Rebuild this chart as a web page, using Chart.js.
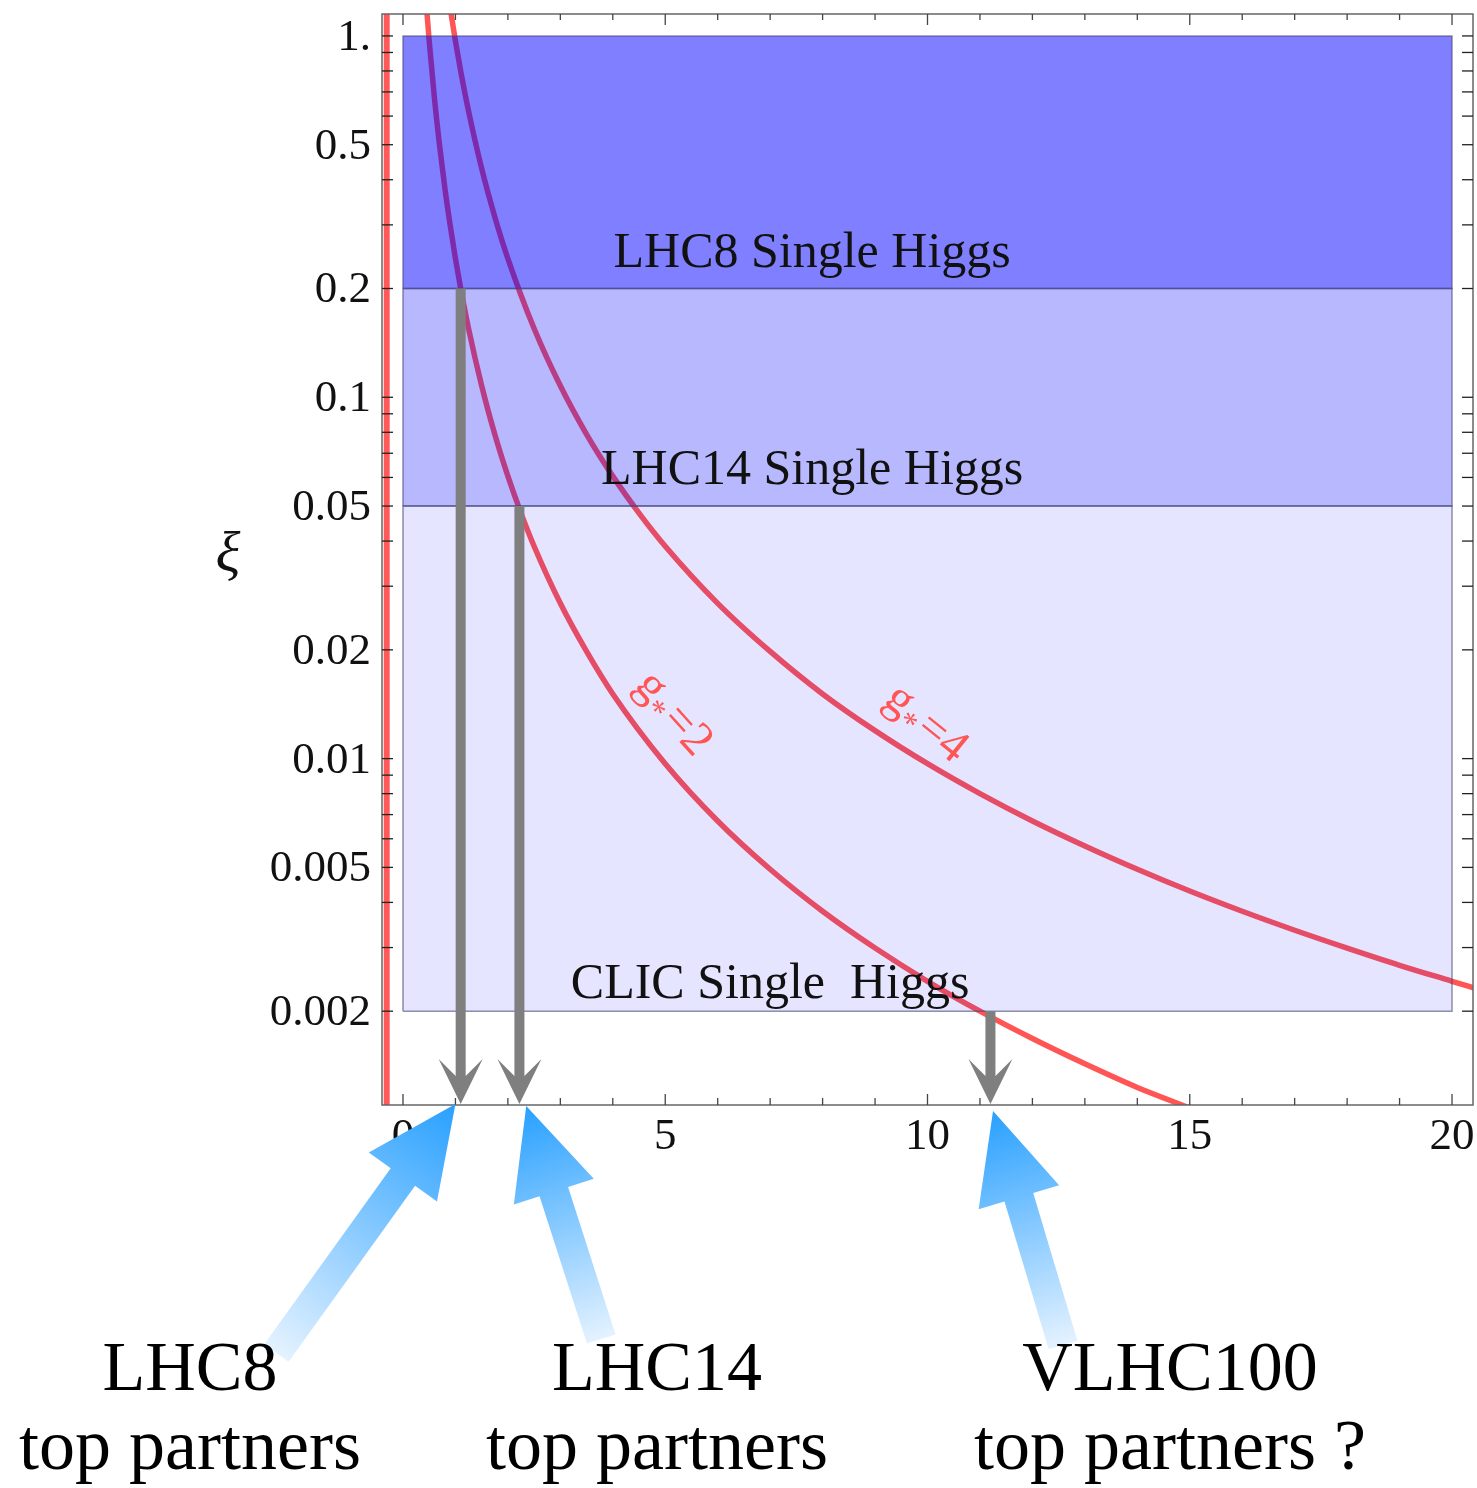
<!DOCTYPE html>
<html>
<head>
<meta charset="utf-8">
<script src="https://cdn.jsdelivr.net/npm/chart.js@4.4.1/dist/chart.umd.min.js"></script>
<style>
  html, body { margin: 0; padding: 0; background: #fff; }
  #wrap { width: 1477px; height: 1488px; }
</style>
</head>
<body>
<div id="wrap"><canvas id="xi-chart" width="1477" height="1488"></canvas></div>
<script>
// ---- data ----
const gStar2X = [0.45, 0.5, 0.6, 0.7, 0.8, 0.9, 1.0, 1.1, 1.25, 1.5, 1.75, 2.0, 2.25, 2.5, 3, 3.5, 4, 5, 6, 7, 8, 9, 10, 11, 12, 13, 14, 15];
const gStar2Y = [1.195, 0.968, 0.672, 0.494, 0.378, 0.299, 0.242, 0.200, 0.155, 0.1076, 0.079, 0.0605, 0.0478, 0.0387, 0.0269, 0.0198, 0.0151, 0.00968, 0.00672, 0.00494, 0.00378, 0.00299, 0.00242, 0.00200, 0.00168, 0.00143, 0.00123, 0.00108];

const gStar4X = [0.9, 1.0, 1.1, 1.25, 1.5, 1.75, 2, 2.5, 3, 3.5, 4, 4.5, 5, 6, 7, 8, 9, 10, 11, 12, 13, 14, 15, 16, 17, 18, 19, 20, 20.5];
const gStar4Y = [1.195, 0.968, 0.800, 0.620, 0.430, 0.316, 0.242, 0.155, 0.1076, 0.079, 0.0605, 0.0478, 0.0387, 0.0269, 0.0198, 0.0151, 0.01195, 0.00968, 0.0080, 0.00672, 0.00573, 0.00494, 0.0043, 0.00378, 0.00335, 0.00299, 0.00268, 0.00242, 0.0023];

// vertical red line at the left edge
const edgeLineX = [-0.31, -0.31];
const edgeLineY = [0.0011, 1.15];

// single Higgs bands
const bandNames = ['LHC8 Single Higgs', 'LHC14 Single Higgs', 'CLIC Single  Higgs'];
const bandLow = [0.2, 0.05, 0.002];
const bandHigh = [1, 0.2, 0.05];
const bandXFrom = 0;
const bandXTo = 20;

// top partner reach (grey arrows)
const reachX = [1.1, 2.22, 11.2];
const reachTop = [0.2, 0.05, 0.002];

// bottom labels
const partnerNames = ['LHC8', 'LHC14', 'VLHC100'];
const partnerSub = ['top partners', 'top partners', 'top partners ?'];
const blueTipX = [1.0, 2.35, 11.25];

// axes
const xMajorTicks = [0, 5, 10, 15, 20];
const xTickLabels = ['0', '5', '10', '15', '20'];
const xMinorTicks = [1, 2, 3, 4, 6, 7, 8, 9, 11, 12, 13, 14, 16, 17, 18, 19];
const yMajorTicks = [1, 0.5, 0.2, 0.1, 0.05, 0.02, 0.01, 0.005, 0.002];
const yTickLabels = ['1.', '0.5', '0.2', '0.1', '0.05', '0.02', '0.01', '0.005', '0.002'];
const yMinorTicks = [0.9, 0.8, 0.7, 0.6, 0.4, 0.3, 0.09, 0.08, 0.07, 0.06, 0.04, 0.03, 0.009, 0.008, 0.007, 0.006, 0.004, 0.003];

// ---- layout / style ----
const SERIF = "'Liberation Serif', 'DejaVu Serif', serif";
const RED = 'rgb(255, 85, 85)';
const GREY = '#7f7f7f';
const bandAlpha = [0.5, 0.28, 0.1];
const bandLabelX = [7.8, 7.8, 7.0];
const bandLabelY = [0.229, 0.0575, 0.00217];
const curveLabels = [
  { x: 5.13, y: 0.0132, rot: 48, sub: '2' },
  { x: 9.95, y: 0.0124, rot: 39, sub: '4' },
];
const blueTail = [[-179, 249], [75, 233], [70, 234]];
const blueTipDrop = [0, 2, 7];
const partnerCenter = [190, 657, 1170];

const pts = (xs, ys) => xs.map((x, i) => ({ x, y: ys[i] }));

function bandShape(i) {
  return [
    { x: bandXFrom, y: bandLow[i] }, { x: bandXFrom, y: bandHigh[i] },
    { x: bandXTo, y: bandHigh[i] }, { x: bandXTo, y: bandLow[i] },
    { x: bandXFrom, y: bandLow[i] },
  ];
}

const datasets = [
  {
    label: 'edge',
    data: pts(edgeLineX, edgeLineY),
    borderColor: 'rgba(255, 80, 80, 0.95)',
    borderWidth: 6,
    order: 10,
  },
  {
    label: 'g*=2',
    data: pts(gStar2X, gStar2Y),
    borderColor: RED,
    borderWidth: 5.5,
    cubicInterpolationMode: 'monotone',
    order: 9,
  },
  {
    label: 'g*=4',
    data: pts(gStar4X, gStar4Y),
    borderColor: RED,
    borderWidth: 5.5,
    cubicInterpolationMode: 'monotone',
    order: 8,
  },
];

bandNames.forEach((name, i) => {
  datasets.push({
    label: name,
    data: bandShape(i),
    borderColor: 'rgba(70, 70, 120, 0.6)',
    borderWidth: 1.5,
    backgroundColor: `rgba(0, 0, 255, ${bandAlpha[i]})`,
    fill: 'shape',
    tension: 0,
    order: 3 - i,
  });
});

function line(ctx, x1, y1, x2, y2) {
  ctx.beginPath();
  ctx.moveTo(x1, y1);
  ctx.lineTo(x2, y2);
  ctx.stroke();
}

const decorPlugin = {
  id: 'decor',
  beforeDraw(chart) {
    const ctx = chart.ctx;
    ctx.save();
    ctx.fillStyle = '#fff';
    ctx.fillRect(0, 0, chart.width, chart.height);
    ctx.restore();
  },
  afterDatasetsDraw(chart) {
    const { ctx, chartArea: a, scales: { x, y } } = chart;
    ctx.save();

    // frame
    ctx.strokeStyle = '#666';
    ctx.lineWidth = 1.5;
    ctx.strokeRect(a.left, a.top, a.right - a.left, a.bottom - a.top);

    // ticks, Mathematica style (inward)
    ctx.strokeStyle = '#444';
    ctx.lineWidth = 1.3;
    xMajorTicks.forEach(v => {
      const px = x.getPixelForValue(v);
      line(ctx, px, a.bottom, px, a.bottom - 11);
      line(ctx, px, a.top, px, a.top + 11);
    });
    xMinorTicks.forEach(v => {
      const px = x.getPixelForValue(v);
      line(ctx, px, a.bottom, px, a.bottom - 7);
      line(ctx, px, a.top, px, a.top + 6);
    });
    ctx.strokeStyle = '#222';
    yMajorTicks.concat(yMinorTicks).forEach(v => {
      const py = y.getPixelForValue(v);
      line(ctx, a.left, py, a.left + 11, py);
      line(ctx, a.right, py, a.right - 11, py);
    });

    // tick labels
    ctx.fillStyle = '#111';
    ctx.font = `45px ${SERIF}`;
    ctx.textAlign = 'center';
    ctx.textBaseline = 'alphabetic';
    xMajorTicks.forEach((v, i) => {
      ctx.fillText(xTickLabels[i], x.getPixelForValue(v), a.bottom + 44);
    });
    ctx.textAlign = 'right';
    yMajorTicks.forEach((v, i) => {
      ctx.fillText(yTickLabels[i], 371, y.getPixelForValue(v) + 14);
    });

    // axis title
    ctx.font = `italic 58px ${SERIF}`;
    ctx.textAlign = 'center';
    ctx.textBaseline = 'middle';
    ctx.fillText('ξ', 228, 556);

    // band labels
    ctx.font = `50px ${SERIF}`;
    ctx.textBaseline = 'alphabetic';
    bandNames.forEach((name, i) => {
      ctx.fillText(name, x.getPixelForValue(bandLabelX[i]), y.getPixelForValue(bandLabelY[i]));
    });

    // curve labels  g* = n
    ctx.fillStyle = RED;
    curveLabels.forEach(c => {
      ctx.save();
      ctx.translate(x.getPixelForValue(c.x), y.getPixelForValue(c.y));
      ctx.rotate(c.rot * Math.PI / 180);
      ctx.textAlign = 'left';
      ctx.textBaseline = 'middle';
      ctx.font = `48px ${SERIF}`;
      const wg = ctx.measureText('g').width;
      const we = ctx.measureText('=' + c.sub).width;
      ctx.font = `32px ${SERIF}`;
      const ws = ctx.measureText('*').width;
      let cx = -(wg + ws + 3 + we) / 2;
      ctx.font = `48px ${SERIF}`;
      ctx.fillText('g', cx, -3);
      cx += wg;
      ctx.font = `32px ${SERIF}`;
      ctx.fillText('*', cx, 11);
      cx += ws + 3;
      ctx.font = `48px ${SERIF}`;
      ctx.fillText('=' + c.sub, cx, 0);
      ctx.restore();
    });

    // grey reach arrows
    ctx.fillStyle = GREY;
    reachX.forEach((v, i) => {
      const px = x.getPixelForValue(v);
      const top = y.getPixelForValue(reachTop[i]);
      const tip = a.bottom - 1;
      ctx.beginPath();
      ctx.moveTo(px, tip);
      ctx.lineTo(px - 22, tip - 45);
      ctx.lineTo(px - 5, tip - 28);
      ctx.lineTo(px - 5, top);
      ctx.lineTo(px + 5, top);
      ctx.lineTo(px + 5, tip - 28);
      ctx.lineTo(px + 22, tip - 45);
      ctx.closePath();
      ctx.fill();
    });

    // blue arrows from the labels
    blueTipX.forEach((v, i) => {
      const tx = x.getPixelForValue(v);
      const ty = a.bottom - 1 + blueTipDrop[i];
      const [dx, dy] = blueTail[i];
      const len = Math.hypot(dx, dy);
      const ux = dx / len, uy = dy / len;
      const nx = -uy, ny = ux;
      const H = 90, HW = 42, SW = 15;
      const bx = tx + ux * H, by = ty + uy * H;
      const ex = tx + dx, ey = ty + dy;
      const grad = ctx.createLinearGradient(tx, ty, ex, ey);
      grad.addColorStop(0, 'rgb(40, 160, 255)');
      grad.addColorStop(1, 'rgb(228, 242, 255)');
      ctx.fillStyle = grad;
      ctx.beginPath();
      ctx.moveTo(tx, ty);
      ctx.lineTo(bx + nx * HW, by + ny * HW);
      ctx.lineTo(bx + nx * SW, by + ny * SW);
      ctx.lineTo(ex + nx * SW, ey + ny * SW);
      ctx.lineTo(ex - nx * SW, ey - ny * SW);
      ctx.lineTo(bx - nx * SW, by - ny * SW);
      ctx.lineTo(bx - nx * HW, by - ny * HW);
      ctx.closePath();
      ctx.fill();
    });

    // bottom labels
    ctx.fillStyle = '#000';
    ctx.textAlign = 'center';
    ctx.textBaseline = 'alphabetic';
    partnerNames.forEach((name, i) => {
      ctx.font = `70px ${SERIF}`;
      ctx.fillText(name, partnerCenter[i], 1390);
      ctx.font = `72px ${SERIF}`;
      ctx.fillText(partnerSub[i], partnerCenter[i], 1469);
    });

    ctx.restore();
  },
};

new Chart(document.getElementById('xi-chart'), {
  type: 'scatter',
  data: { datasets },
  options: {
    responsive: false,
    animation: false,
    showLine: true,
    elements: { point: { radius: 0, hoverRadius: 0 }, line: { fill: false } },
    layout: { padding: { left: 382, top: 14, right: 4, bottom: 383 } },
    plugins: { legend: { display: false }, tooltip: { enabled: false } },
    scales: {
      x: { type: 'linear', min: -0.4, max: 20.4, display: false },
      y: { type: 'logarithmic', min: 0.0011, max: 1.15, display: false },
    },
  },
  plugins: [decorPlugin],
});
</script>
</body>
</html>
